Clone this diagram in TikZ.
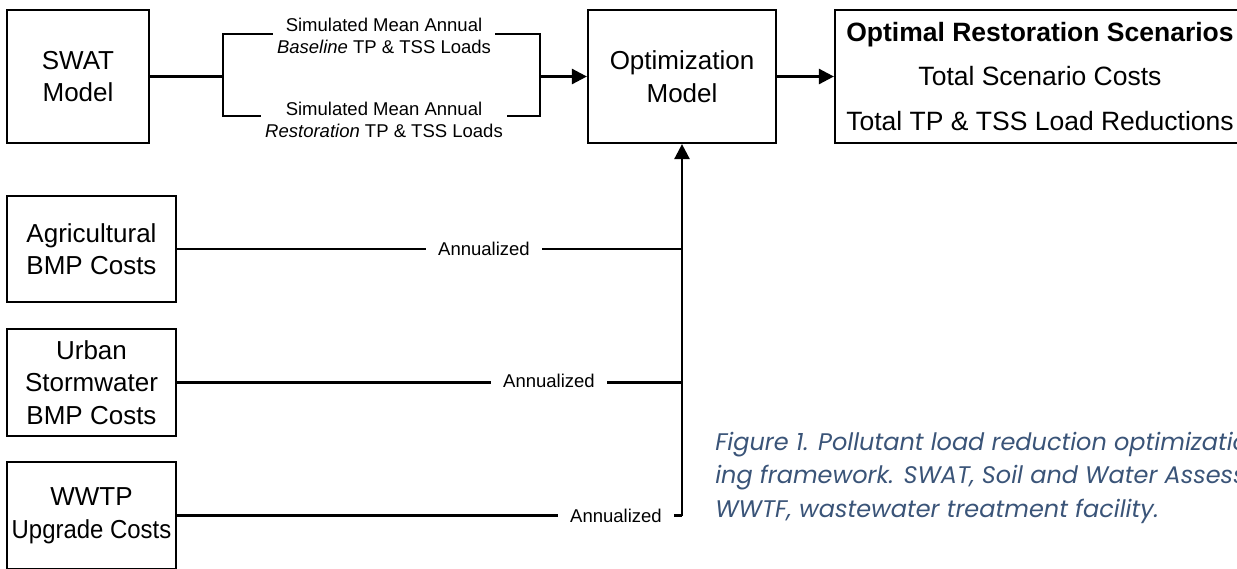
\documentclass[tikz,border=0pt]{standalone}
\usepackage{fontspec}
\setmainfont{Liberation Sans}
\newfontfamily\capfont{Poppins}
\usetikzlibrary{arrows.meta}

\tikzset{every picture/.style={line width=2.6pt}}

\begin{document}
\begin{tikzpicture}[x=1pt,y=1pt,yscale=-1,xscale=1,
  box/.style={draw,line width=2.2pt,inner sep=0pt,align=center,font=\fontsize{26}{32.5}\selectfont},
  flowlbl/.style={fill=white,inner xsep=4pt,inner ysep=1pt,align=center,font=\fontsize{18.5}{22}\selectfont},
  costlbl/.style={fill=white,inner xsep=12pt,inner ysep=2pt,font=\fontsize{18.5}{22}\selectfont},
  feed/.style={-{Triangle[length=15pt,width=15pt]}}]
%set diagram size 1237 x 568
\useasboundingbox (0,0) rectangle (1237,568);
\clip (0,0) rectangle (1237,568);

%Shape: Boxes
\node[box,minimum width=142pt,minimum height=133pt] (swat) at (78,76.5) {SWAT\\Model};
\node[box,minimum width=188pt,minimum height=133pt] (opt) at (682,76.5) {Optimization\\Model};
\node[box,minimum width=410pt,minimum height=133pt,font=\fontsize{26.5}{44.5}\selectfont] (result) at (1040,76.5)
  {\textbf{Optimal Restoration Scenarios}\\Total Scenario Costs\\Total TP \& TSS Load Reductions};
\node[box,minimum width=169pt,minimum height=106pt] (agri) at (91.5,249) {Agricultural\\BMP Costs};
\node[box,minimum width=169pt,minimum height=107pt] (urban) at (91.5,382.5) {Urban\\Stormwater\\BMP Costs};
\node[box,minimum width=169pt,minimum height=107pt] (wwtp) at (91.5,515.5) {WWTP\\\scalebox{0.92}[1]{Upgrade Costs}};

%Straight Lines: SWAT loads
\coordinate (fork) at (223,76.5);
\coordinate (forktop) at (223,34);
\coordinate (joinbot) at (540,116);
\coordinate (join) at (540,76.5);
\draw (swat.east) -- (fork);
\draw (forktop) rectangle (joinbot);
\draw [feed] (join) -- (opt.west);
\draw [feed] (opt.east) -- (result.west);

%Straight Lines: annualized costs
\draw (agri.east) -- (agri.east -| opt.south);
\draw (urban.east) -- (urban.east -| opt.south);
\draw (wwtp.east) -- (wwtp.east -| opt.south);
\draw [feed] (wwtp.east -| opt.south) -- (opt.south);

% Text Node
\node[flowlbl] (baseline) at (384,36) {Simulated Mean Annual\\\textit{Baseline} TP \& TSS Loads};
% Text Node
\node[flowlbl] (restore) at (384,120) {Simulated Mean Annual\\\textit{Restoration} TP \& TSS Loads};
% Text Node
\node[costlbl] (annagri) at (484,249) {Annualized};
% Text Node
\node[costlbl] (annurban) at (549,381) {Annualized};
% Text Node
\node[costlbl] (annwwtp) at (616,516) {Annualized};

% Text Node
\node[anchor=base west,inner sep=0pt,align=left,text={rgb,255:red,58;green,84;blue,120},
  font=\capfont\itshape\fontsize{24}{33.5}\selectfont] (caption) at (714,517)
  {Figure 1. Pollutant load reduction optimization\\ing framework. SWAT, Soil and Water Assessment\\WWTF, wastewater treatment facility.};

\end{tikzpicture}
\end{document}
